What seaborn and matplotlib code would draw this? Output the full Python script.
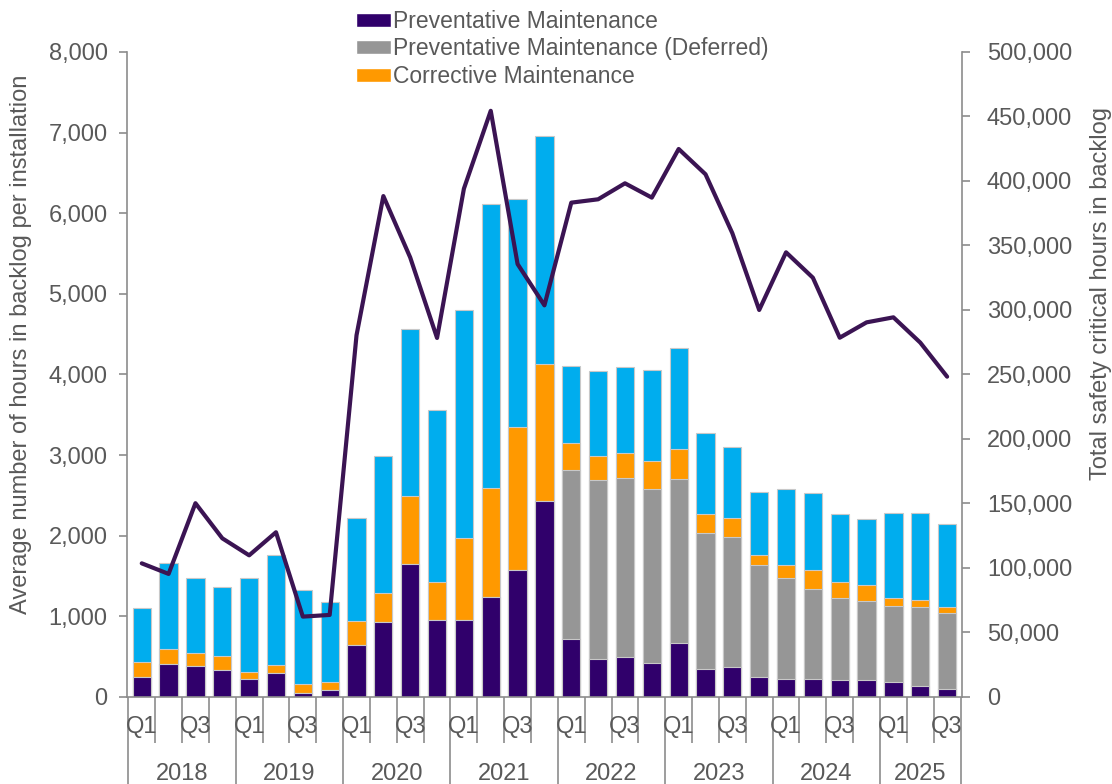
import numpy as np
import pandas as pd
import matplotlib
matplotlib.use("Agg")
import matplotlib.pyplot as plt
import matplotlib.ticker as mticker
import matplotlib.transforms as mtransforms
from matplotlib.patches import Patch
import seaborn as sns

# quarters 2018 Q1 .. 2025 Q3
years = ["2018", "2019", "2020", "2021", "2022", "2023", "2024", "2025"]
quarters_per_year = [4, 4, 4, 4, 4, 4, 4, 3]
quarter_labels = ["Q1", "", "Q3", ""] * 7 + ["Q1", "", "Q3"]

# average hours in backlog per installation (stacked bars)
preventative = [250, 410, 380, 335, 220, 300, 55, 85,
                650, 935, 1655, 950, 950, 1240, 1570, 2430,
                720, 467, 490, 420, 665, 350, 370, 250,
                225, 225, 205, 205, 180, 140, 100]
preventative_deferred = [0, 0, 0, 0, 0, 0, 0, 0,
                         0, 0, 0, 0, 0, 0, 0, 0,
                         2095, 2224, 2230, 2155, 2035, 1685, 1610, 1385,
                         1255, 1115, 1020, 980, 950, 970, 940]
corrective = [190, 185, 165, 175, 95, 95, 110, 95,
              290, 350, 840, 470, 1020, 1355, 1780, 1695,
              330, 297, 305, 350, 375, 230, 235, 120,
              160, 235, 200, 200, 100, 90, 75]
other_backlog = [660, 1065, 935, 850, 1155, 1365, 1165, 1000,
                 1280, 1700, 2065, 2135, 2825, 3525, 2830, 2830,
                 955, 1052, 1070, 1130, 1255, 1015, 890, 785,
                 945, 950, 850, 820, 1050, 1080, 1030]

# total safety critical hours in backlog (line, right axis)
total_safety_critical = [103600, 95400, 150200, 123000, 109800, 127700, 62300, 63600,
                         280400, 388300, 340700, 278300, 394000, 454400, 335600, 303600,
                         383200, 385800, 398200, 387100, 424800, 405200, 359500, 300000,
                         344700, 325000, 278500, 290400, 294300, 274700, 248300]

c_pm = "#30006b"
c_def = "#969696"
c_cm = "#ff9900"
c_other = "#00adee"
c_line = "#3b1453"
c_text = "#595959"
c_axis = "#8c8c8c"

sns.set_theme(style="white")
plt.rcParams["font.family"] = ["Liberation Sans", "DejaVu Sans"]

n = len(preventative)
df = pd.DataFrame({
    "pos": np.arange(n),
    "pm": preventative,
    "pm_def": preventative_deferred,
    "cm": corrective,
    "other": other_backlog,
    "line": total_safety_critical,
})
df["lvl1"] = df["pm"]
df["lvl2"] = df["lvl1"] + df["pm_def"]
df["lvl3"] = df["lvl2"] + df["cm"]
df["lvl4"] = df["lvl3"] + df["other"]

fig, ax = plt.subplots(figsize=(11.12, 7.84), dpi=100)
fig.subplots_adjust(left=0.1142, right=0.865, bottom=0.111, top=0.9337)

# stacked bars: draw cumulative totals from tallest down
for col, color in [("lvl4", c_other), ("lvl3", c_cm), ("lvl2", c_def), ("lvl1", c_pm)]:
    sns.barplot(data=df, x="pos", y=col, color=color, saturation=1, width=0.68,
                errorbar=None, edgecolor="#c8c8c8", linewidth=0.8, ax=ax)

ax.set_ylim(0, 8000)
ax.set_yticks(np.arange(0, 8001, 1000))
ax.yaxis.set_major_formatter(mticker.FuncFormatter(lambda v, p: f"{v:,.0f}"))
ax.set_xlim(-0.55, n - 0.45)

ax2 = ax.twinx()
sns.lineplot(data=df, x="pos", y="line", color=c_line, linewidth=3.0, ax=ax2)
ax2.set_ylim(0, 500000)
ax2.set_yticks(np.arange(0, 500001, 50000))
ax2.yaxis.set_major_formatter(mticker.FuncFormatter(lambda v, p: f"{v:,.0f}"))
ax2.set_xlim(-0.55, n - 0.45)

# spines
for a in (ax, ax2):
    a.spines["top"].set_visible(False)
    for s in a.spines.values():
        s.set_color(c_axis)
        s.set_linewidth(1.2)
ax.spines["right"].set_visible(False)
ax2.spines["left"].set_visible(False)
ax2.spines["bottom"].set_visible(False)

ax.tick_params(axis="y", left=True, length=6, width=1.2, color=c_axis,
               labelsize=17, labelcolor=c_text, pad=8)
ax2.tick_params(axis="y", right=True, length=6, width=1.2, color=c_axis,
                labelsize=17, labelcolor=c_text, pad=12)

# x axis: quarter boundaries as ticks, long ones at year boundaries
year_edges = np.concatenate([[0], np.cumsum(quarters_per_year)]) - 0.5
all_edges = np.arange(n + 1) - 0.5
minor_edges = [e for e in all_edges if e not in year_edges]
ax.set_xticks(year_edges)
ax.set_xticklabels([])
ax.set_xticks(minor_edges, minor=True)
ax.tick_params(axis="x", which="major", bottom=True, length=63, width=1.2, color=c_axis)
ax.tick_params(axis="x", which="minor", bottom=True, length=33, width=1.2, color=c_axis)
ax.set_xlabel("")
ax2.set_xlabel("")

trans = mtransforms.blended_transform_factory(ax.transData, ax.transAxes)
for i, lab in enumerate(quarter_labels):
    if lab:
        ax.text(i, -0.0465, lab, transform=trans, ha="center", va="center",
                fontsize=17, color=c_text)
for k, yr in enumerate(years):
    mid = (year_edges[k] + year_edges[k + 1]) / 2
    ax.text(mid, -0.119, yr, transform=trans, ha="center", va="center",
            fontsize=17, color=c_text)

ax.set_ylabel("Average number of hours in backlog per installation", fontsize=17, color=c_text)
ax.yaxis.set_label_coords(-0.114, 0.546)
ax2.set_ylabel("Total safety critical hours in backlog", fontsize=17, color=c_text)
ax2.yaxis.set_label_coords(1.153, 0.625)

handles = [Patch(facecolor=c_pm), Patch(facecolor=c_def), Patch(facecolor=c_cm)]
labels = ["Preventative Maintenance", "Preventative Maintenance (Deferred)", "Corrective Maintenance"]
leg = fig.legend(handles, labels, loc="upper left", bbox_to_anchor=(0.308, 1.005),
                 frameon=False, fontsize=16.5, handlelength=1.5, handleheight=0.55,
                 handletextpad=0.1, labelspacing=0.2, borderaxespad=0.2)
for t in leg.get_texts():
    t.set_color(c_text)

fig.savefig("out.png", dpi=100)
